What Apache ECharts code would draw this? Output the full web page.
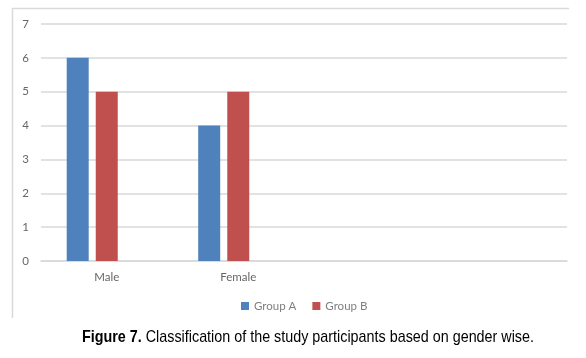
<!DOCTYPE html>
<html><head><meta charset="utf-8">
<script src="https://cdn.jsdelivr.net/npm/echarts@6/dist/echarts.min.js"></script>
<style>html,body{margin:0;padding:0;background:#fff}#c{width:586px;height:358px}</style>
</head><body><div id="c"></div>
<script>
const categories = ['Male', 'Female', '', ''];
const groupA = [6, 4, null, null];
const groupB = [5, 5, null, null];
const groupC = [null, null, null, null];
const yTicks = [0, 1, 2, 3, 4, 5, 6, 7];
const captionBold = 'Figure 7.';
const caption = 'Classification of the study participants based on gender wise.';

const capFont = 'Liberation Sans';
const capSize = 17;
const ctx = document.createElement('canvas').getContext('2d');
ctx.font = 'bold ' + capSize + 'px "' + capFont + '"';
let w = ctx.measureText(captionBold + ' ').width;
ctx.font = capSize + 'px "' + capFont + '"';
w += ctx.measureText(caption).width;
const targetW = 452;
const sx = targetW / w;

const chart = echarts.init(document.getElementById('c'));
chart.setOption({
  animation: false,
  backgroundColor: '#fff',
  grid: { left: 41, top: 24, width: 526, height: 237, containLabel: false },
  legend: {
    data: ['Group A', 'Group B'],
    top: 295, left: 236, itemWidth: 8, itemHeight: 8, itemGap: 16,
    icon: 'rect',
    textStyle: { color: '#7f7f7f', fontFamily: 'Lato', fontSize: 11.5 }
  },
  xAxis: {
    type: 'category', data: categories,
    axisLine: { lineStyle: { color: '#d9d9d9', width: 1.5 } },
    axisTick: { show: false },
    axisLabel: { color: '#666666', fontFamily: 'Lato', fontSize: 11.5, margin: 10, interval: 0 }
  },
  yAxis: {
    type: 'value', min: yTicks[0], max: yTicks[yTicks.length - 1], interval: 1,
    axisLine: { show: false }, axisTick: { show: false },
    splitLine: { lineStyle: { color: '#d9d9d9', width: 1.5 } },
    axisLabel: { color: '#666666', fontFamily: 'Lato', fontSize: 11.5, margin: 12 }
  },
  series: [
    { name: 'Group A', type: 'bar', data: groupA, barWidth: 22, barGap: '32%', itemStyle: { color: '#4f81bd' } },
    { name: 'Group B', type: 'bar', data: groupB, barWidth: 22, barGap: '32%', itemStyle: { color: '#c0504d' } },
    { name: 'Group C', type: 'bar', data: groupC, barWidth: 22, barGap: '32%', itemStyle: { color: '#9bbb59' } }
  ],
  graphic: [
    { type: 'line', shape: { x1: 12, y1: 8.5, x2: 569, y2: 8.5 }, style: { stroke: '#d9d9d9', lineWidth: 1.5 }, silent: true },
    { type: 'line', shape: { x1: 12.5, y1: 8, x2: 12.5, y2: 318 }, style: { stroke: '#d9d9d9', lineWidth: 1.5 }, silent: true },
    { type: 'text', x: 82, y: 337, scaleX: sx, originX: 0,
      style: { text: '{b|' + captionBold + '} ' + caption, verticalAlign: 'middle', align: 'left',
        rich: { b: { fontWeight: 'bold', fontFamily: capFont, fontSize: capSize, fill: '#000' } },
        fontFamily: capFont, fontSize: capSize, fill: '#000' } }
  ]
});
</script></body></html>
